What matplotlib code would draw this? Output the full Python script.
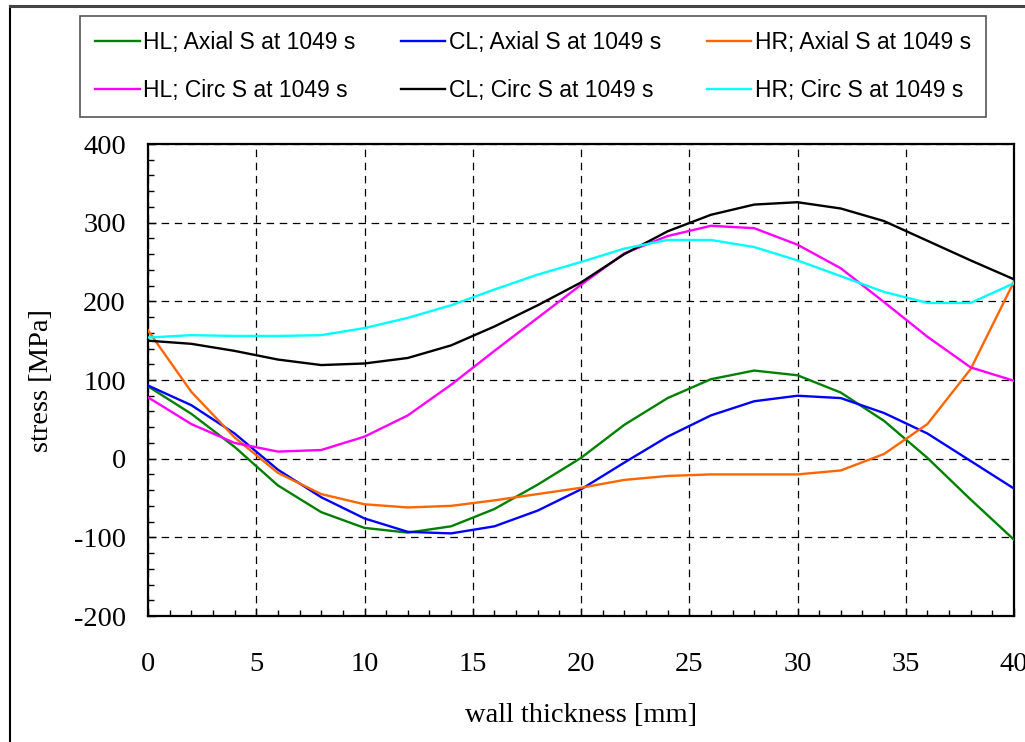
import matplotlib
matplotlib.use("Agg")
import matplotlib.pyplot as plt
from matplotlib.lines import Line2D
from matplotlib.ticker import MultipleLocator

plt.rcParams["axes.unicode_minus"] = False

# wall thickness positions [mm]
thickness = [0, 2, 4, 6, 8, 10, 12, 14, 16, 18, 20, 22, 24, 26, 28, 30, 32, 34, 36, 38, 40]

# stresses [MPa] at 1049 s
hl_axial = [92, 57, 15, -34, -68, -88, -94, -86, -64, -33, 1, 43, 77, 101, 112, 106, 84, 48, 1, -52, -103]
cl_axial = [93, 68, 32, -14, -49, -76, -93, -95, -86, -66, -39, -5, 28, 55, 73, 80, 77, 58, 32, -3, -38]
hr_axial = [163, 85, 27, -18, -45, -58, -62, -60, -53, -45, -37, -27, -22, -20, -20, -20, -15, 6, 44, 114, 225]
hl_circ = [78, 44, 20, 9, 11, 28, 55, 94, 137, 179, 221, 261, 283, 296, 293, 272, 242, 199, 155, 116, 99]
cl_circ = [150, 146, 137, 126, 119, 121, 128, 144, 168, 195, 224, 260, 289, 310, 323, 326, 318, 302, 277, 252, 228]
hr_circ = [154, 157, 156, 156, 157, 166, 179, 195, 215, 234, 250, 267, 278, 278, 269, 252, 232, 212, 198, 198, 223]

labels = [
    "HL; Axial S at 1049 s", "CL; Axial S at 1049 s", "HR; Axial S at 1049 s",
    "HL; Circ S at 1049 s", "CL; Circ S at 1049 s", "HR; Circ S at 1049 s",
]
series = [hl_axial, cl_axial, hr_axial, hl_circ, cl_circ, hr_circ]
colors = ["#008000", "#0000FF", "#FF6600", "#FF00FF", "#000000", "#00FFFF"]

x_ticks = [0, 5, 10, 15, 20, 25, 30, 35, 40]
y_ticks = [-200, -100, 0, 100, 200, 300, 400]

W, H = 1025, 742
fig = plt.figure(figsize=(W / 100, H / 100), dpi=100)
ax = fig.add_axes([148 / W, 1 - 616 / H, (1014 - 148) / W, (616 - 144) / H])

lines = []
for vals, col, lab in zip(series, colors, labels):
    ln, = ax.plot(thickness, vals, color=col, lw=1.7, label=lab, zorder=3)
    lines.append(ln)

ax.set_xlim(0, 40)
ax.set_ylim(-200, 400)
ax.set_xticks(x_ticks)
ax.set_yticks(y_ticks)
ax.xaxis.set_minor_locator(MultipleLocator(1))
ax.yaxis.set_minor_locator(MultipleLocator(20))

serif = ["Liberation Serif", "DejaVu Serif"]
for t in ax.get_xticklabels() + ax.get_yticklabels():
    t.set_fontfamily(serif)
    t.set_fontsize(20.5)

ax.tick_params(which="both", direction="in", top=False, right=False, width=1.0, color="black")
ax.tick_params(which="major", length=6)
ax.tick_params(which="minor", length=4.5)
ax.tick_params(axis="x", which="major", pad=26)
ax.tick_params(axis="y", which="major", pad=16)

ax.grid(True, which="major", color="black", lw=0.9, dashes=(6, 4.5))
ax.set_axisbelow(True)
for sp in ax.spines.values():
    sp.set_linewidth(1.6)
    sp.set_color("black")

ax.set_xlabel("wall thickness [mm]", fontfamily=serif, fontsize=20.5)
ax.set_ylabel("stress [MPa]", fontfamily=serif, fontsize=20.5)
ax.xaxis.set_label_coords(0.5, -0.184)
ax.yaxis.set_label_coords(-0.108, 0.5)

# legend: rows = axial / circ, columns = HL / CL / HR
order = [0, 3, 1, 4, 2, 5]
leg = fig.legend(
    [lines[i] for i in order], [labels[i] for i in order],
    ncol=3, loc="upper left", bbox_to_anchor=(80 / W, 1 - 16 / H),
    borderaxespad=0, fancybox=False, framealpha=1, edgecolor="#555555",
    prop={"family": ["Liberation Sans", "DejaVu Sans"], "size": 16.5},
    handlelength=1.95, handletextpad=0.15, columnspacing=1.98,
    labelspacing=1.08, borderpad=0.65,
)
leg.get_frame().set_linewidth(1.2)

# outer chart border
fig.add_artist(Line2D([9.5 / W, 9.5 / W], [0, 1 - 5.7 / H], transform=fig.transFigure,
                      color="black", lw=1.5))
fig.add_artist(Line2D([9.5 / W, 1], [1 - 5.7 / H, 1 - 5.7 / H], transform=fig.transFigure,
                      color="#444444", lw=2.2))

fig.savefig("out.png", dpi=100)
